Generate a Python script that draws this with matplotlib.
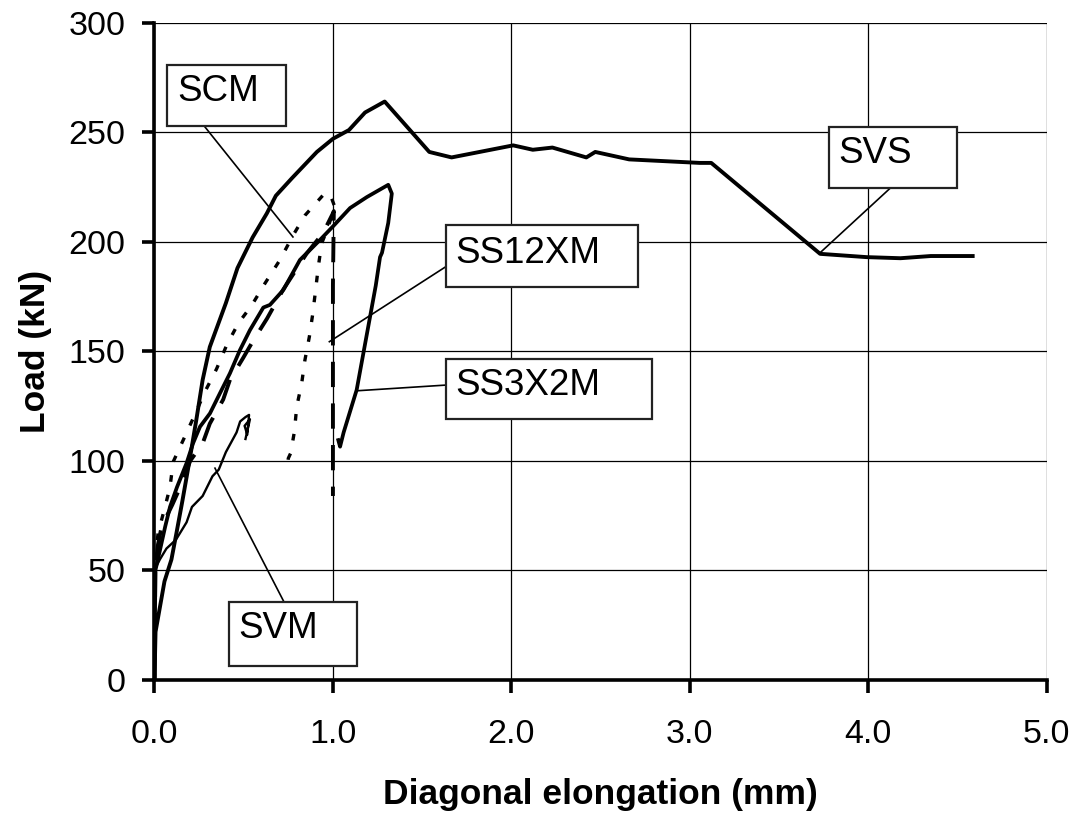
import matplotlib
matplotlib.use("Agg")
import matplotlib.pyplot as plt
from matplotlib.patches import Rectangle

plt.rcParams['font.family'] = ['Liberation Sans', 'DejaVu Sans']

# curves (elongation mm, load kN)
svs_x = [0, 0.006, 0.056, 0.095, 0.123, 0.157, 0.196, 0.235, 0.27, 0.31, 0.40, 0.465, 0.55, 0.63,
         0.68, 0.77, 0.91, 1.0, 1.09, 1.18, 1.29, 1.54, 1.665, 2.01, 2.12, 2.23, 2.42, 2.47, 2.66,
         3.055, 3.12, 3.73, 3.99, 4.18, 4.35, 4.585]
svs_y = [0, 22, 45, 55, 67, 82, 100, 119, 137, 152, 172, 188, 202, 213,
         221, 229, 241, 247, 251, 259, 264, 241, 238.5, 244, 242, 243, 238.5, 241, 237.6,
         236, 236, 194.5, 193, 192.5, 193.5, 193.5]

svm_x = [0, 0.005, 0.03, 0.067, 0.12, 0.18, 0.21, 0.27, 0.325, 0.36, 0.375, 0.40, 0.44, 0.46,
         0.48, 0.51, 0.53, 0.52, 0.505, 0.535, 0.51]
svm_y = [0, 51, 55, 60, 64, 72, 79, 84, 93, 96, 99, 104, 110, 113,
         118, 120, 121, 112, 116, 119, 110]

ss3_x = [0, 0.005, 0.03, 0.06, 0.087, 0.126, 0.18, 0.216, 0.255, 0.311, 0.367, 0.423, 0.479,
         0.535, 0.61, 0.647, 0.722, 0.815, 0.927, 1.0, 1.096, 1.19, 1.31, 1.33, 1.31, 1.275,
         1.264, 1.24, 1.133, 1.06, 1.04, 1.03]
ss3_y = [0, 50, 59, 70, 79, 88, 99, 108, 115.6, 121.7, 130.9, 140, 150.6,
         159.7, 170, 171.2, 178, 191.7, 200.8, 207, 215.4, 220.4, 226, 222, 208.6, 195,
         193, 180, 132.4, 113, 106.5, 109.5]

ss12_x = [0, 0.005, 0.02, 0.04, 0.1, 0.155, 0.2, 0.27, 0.31, 0.385, 0.423, 0.497, 0.554, 0.631,
          0.72, 0.853, 0.945, 1.0, 1.005, 1.0, 1.0, 1.0, 1.0]
ss12_y = [0, 52, 62, 70, 80, 90, 100, 108, 117, 128, 137, 147, 155, 165,
          178, 194.7, 204, 213, 214, 180, 140, 100, 84]

scm_x = [0, 0.005, 0.02, 0.059, 0.087, 0.105, 0.161, 0.22, 0.283, 0.348, 0.405, 0.47, 0.545,
         0.619, 0.703, 0.777, 0.843, 0.946, 0.983, 1.01, 0.97, 0.937, 0.918, 0.903, 0.886,
         0.868, 0.843, 0.825, 0.797, 0.784, 0.763, 0.75, 0.745]
scm_y = [0, 55, 67, 79, 88, 99.6, 109.5, 120, 131.6, 142, 152.9, 162.8, 171,
         181, 191.7, 203, 212, 221.4, 222, 216, 206, 199.3, 188.6, 178, 166.6,
         156.7, 146, 135.4, 124.7, 113.3, 103.5, 101.2, 98]

# label boxes: name, box (x0, y0, x1, y1), text x, text y, leader start, leader end
labels = [
    ("SCM", (0.07, 252.9, 0.737, 280.8), 0.126, 268.5, (0.283, 252.4), (0.776, 202.2)),
    ("SS12XM", (1.632, 179.5, 2.710, 207.7), 1.684, 194.5, (1.632, 188.6), (0.98, 154.4)),
    ("SS3X2M", (1.632, 119.1, 2.786, 146.5), 1.684, 134.5, (1.632, 134.6), (1.133, 132.0)),
    ("SVM", (0.416, 6.5, 1.137, 35.6), 0.468, 23.5, (0.726, 35.6), (0.339, 96.7)),
    ("SVS", (3.780, 224.7, 4.497, 252.5), 3.832, 240.5, (4.126, 224.7), (3.73, 195.0)),
]

fig = plt.figure(figsize=(10.81, 8.21), dpi=100)
ax = fig.add_axes([0.1429, 0.1717, 0.8254, 0.8007])

ax.plot(svs_x, svs_y, color='black', lw=2.8, solid_joinstyle='round', zorder=3)
ax.plot(ss3_x, ss3_y, color='black', lw=2.7, solid_joinstyle='round', zorder=3)
ax.plot(svm_x, svm_y, color='black', lw=1.7, zorder=3)
ax.plot(ss12_x, ss12_y, color='black', lw=2.8, dashes=(6.5, 4.2), zorder=3)
ax.plot(scm_x, scm_y, color='black', lw=2.4, dashes=(2.0, 4.0), zorder=3)

for name, (x0, y0, x1, y1), tx, ty, p0, p1 in labels:
    ax.plot([p0[0], p1[0]], [p0[1], p1[1]], color='black', lw=1.2, zorder=4)
    ax.add_patch(Rectangle((x0, y0), x1 - x0, y1 - y0, facecolor='white',
                           edgecolor='#222222', lw=1.6, zorder=5, clip_on=False))
    ax.text(tx, ty, name, fontsize=26.5, ha='left', va='center', zorder=6)

ax.set_xlim(0, 5)
ax.set_ylim(0, 300)
ax.set_xticks([0, 1, 2, 3, 4, 5])
ax.set_xticklabels(["0.0", "1.0", "2.0", "3.0", "4.0", "5.0"])
ax.set_yticks([0, 50, 100, 150, 200, 250, 300])
ax.grid(True, color='black', lw=0.9)
ax.set_axisbelow(True)
for s in ['top', 'right']:
    ax.spines[s].set_visible(False)
for s in ['left', 'bottom']:
    ax.spines[s].set_linewidth(2.6)
ax.tick_params(direction='out', length=9, width=2.6, labelsize=24.5)
ax.tick_params(axis='x', pad=19)
ax.tick_params(axis='y', pad=12)

ax.set_xlabel("Diagonal elongation (mm)", fontsize=25.5, fontweight='bold', labelpad=20)
ax.set_ylabel("Load (kN)", fontsize=25.5, fontweight='bold', labelpad=12)

fig.savefig("out.png", dpi=100)
